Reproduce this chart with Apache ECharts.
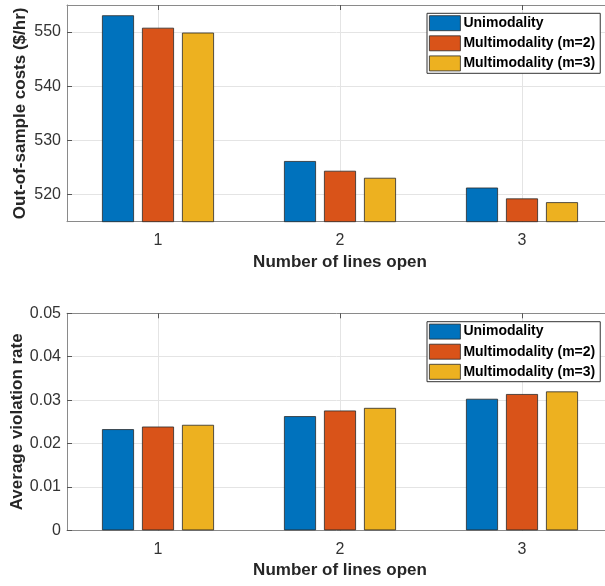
<!DOCTYPE html>
<html>
<head>
<meta charset="utf-8">
<script src="https://cdn.jsdelivr.net/npm/echarts@6/dist/echarts.min.js"></script>
<style>
  html, body { margin: 0; padding: 0; background: #fff; }
  #chart { width: 605px; height: 586px; }
</style>
</head>
<body>
<div id="chart"></div>
<script>
// Categories: number of lines open
const categories = ['1', '2', '3'];
const seriesNames = ['Unimodality', 'Multimodality (m=2)', 'Multimodality (m=3)'];

// Out-of-sample costs ($/hr)
const costUni = [553.1, 526.2, 521.3];
const costM2  = [550.8, 524.4, 519.3];
const costM3  = [549.9, 523.1, 518.6];

// Average violation rate
const violUni = [0.0233, 0.0263, 0.0303];
const violM2  = [0.0239, 0.0276, 0.0314];
const violM3  = [0.0243, 0.0282, 0.0320];

const colors = ['#0072BD', '#D95319', '#EDB120'];
const FONT = '"Liberation Sans", Arial, Helvetica, sans-serif';
const axisGray = '#8a8a8a';
const textGray = '#333333';

const chart = echarts.init(document.getElementById('chart'), null, { renderer: 'canvas' });

function catAxis(gridIndex) {
  return {
    type: 'category', gridIndex, data: categories,
    axisLine: { show: true, lineStyle: { color: axisGray, width: 1 } },
    axisTick: { show: true, inside: true, alignWithLabel: true, length: 5, lineStyle: { color: '#555' } },
    axisLabel: { fontFamily: FONT, fontSize: 16, color: textGray, margin: 11 },
    splitLine: { show: true, alignWithLabel: true, lineStyle: { color: '#e4e4e4', width: 1 } },
    name: 'Number of lines open', nameLocation: 'middle', nameGap: 32, nameMoveOverlap: false,
    nameTextStyle: { fontFamily: FONT, fontSize: 17, fontWeight: 'bold', color: '#262626' }
  };
}
function topAxis(gridIndex) {
  return {
    type: 'category', gridIndex, data: categories, position: 'top',
    axisLine: { show: true, lineStyle: { color: axisGray, width: 1 } },
    axisTick: { show: true, inside: true, alignWithLabel: true, length: 5, lineStyle: { color: '#555' } },
    axisLabel: { show: false }, splitLine: { show: false }
  };
}
function valAxis(gridIndex, opts) {
  return Object.assign({
    type: 'value', gridIndex,
    axisLine: { show: true, lineStyle: { color: axisGray, width: 1 } },
    axisTick: { show: true, inside: true, length: 5, lineStyle: { color: '#555' } },
    axisLabel: { fontFamily: FONT, fontSize: 16, color: textGray, margin: 6 },
    splitLine: { show: true, lineStyle: { color: '#e4e4e4', width: 1 } },
    nameLocation: 'middle', nameMoveOverlap: false,
    nameTextStyle: { fontFamily: FONT, fontSize: 17, fontWeight: 'bold', color: '#262626' }
  }, opts);
}
function barSeries(name, data, idx, axisIdx) {
  return {
    type: 'bar', name, data,
    xAxisIndex: axisIdx, yAxisIndex: axisIdx,
    barWidth: 32, barGap: '25%',
    itemStyle: { color: colors[idx], borderColor: '#2a2a2a', borderWidth: 0.8 },
    emphasis: { disabled: true }, animation: false
  };
}
function legend(top) {
  return {
    left: 427, top, orient: 'vertical',
    itemWidth: 31, itemHeight: 15, itemGap: 4.3,
    padding: [2, 5, 2, 2],
    borderColor: '#333', borderWidth: 1, backgroundColor: '#fff',
    icon: 'rect',
    itemStyle: { borderColor: '#2a2a2a', borderWidth: 0.8 },
    textStyle: { fontFamily: FONT, fontSize: 14, fontWeight: 'bold', color: '#000', padding: [0, 0, 0, -2] },
    data: seriesNames, selectedMode: false
  };
}

chart.setOption({
  animation: false,
  grid: [
    { left: 67, top: 5, width: 546, height: 216.7, show: false, containLabel: false, outerBoundsMode: 'none' },
    { left: 67, top: 313.3, width: 546, height: 217, show: false, containLabel: false, outerBoundsMode: 'none' }
  ],
  xAxis: [catAxis(0), catAxis(1), topAxis(0), topAxis(1)],
  yAxis: [
    valAxis(0, { min: 515, max: 555, splitNumber: 4,
      axisLabel: { fontFamily: FONT, fontSize: 16, color: textGray, margin: 6, showMinLabel: false, showMaxLabel: false },
      name: 'Out-of-sample costs ($/hr)', nameGap: 38 }),
    valAxis(1, { min: 0, max: 0.05, interval: 0.01,
      name: 'Average violation rate', nameGap: 41 })
  ],
  legend: [legend(13.3), legend(321.7)],
  series: [
    barSeries(seriesNames[0], costUni, 0, 0),
    barSeries(seriesNames[1], costM2, 1, 0),
    barSeries(seriesNames[2], costM3, 2, 0),
    barSeries(seriesNames[0], violUni, 0, 1),
    barSeries(seriesNames[1], violM2, 1, 1),
    barSeries(seriesNames[2], violM3, 2, 1)
  ]
});
</script>
</body>
</html>
